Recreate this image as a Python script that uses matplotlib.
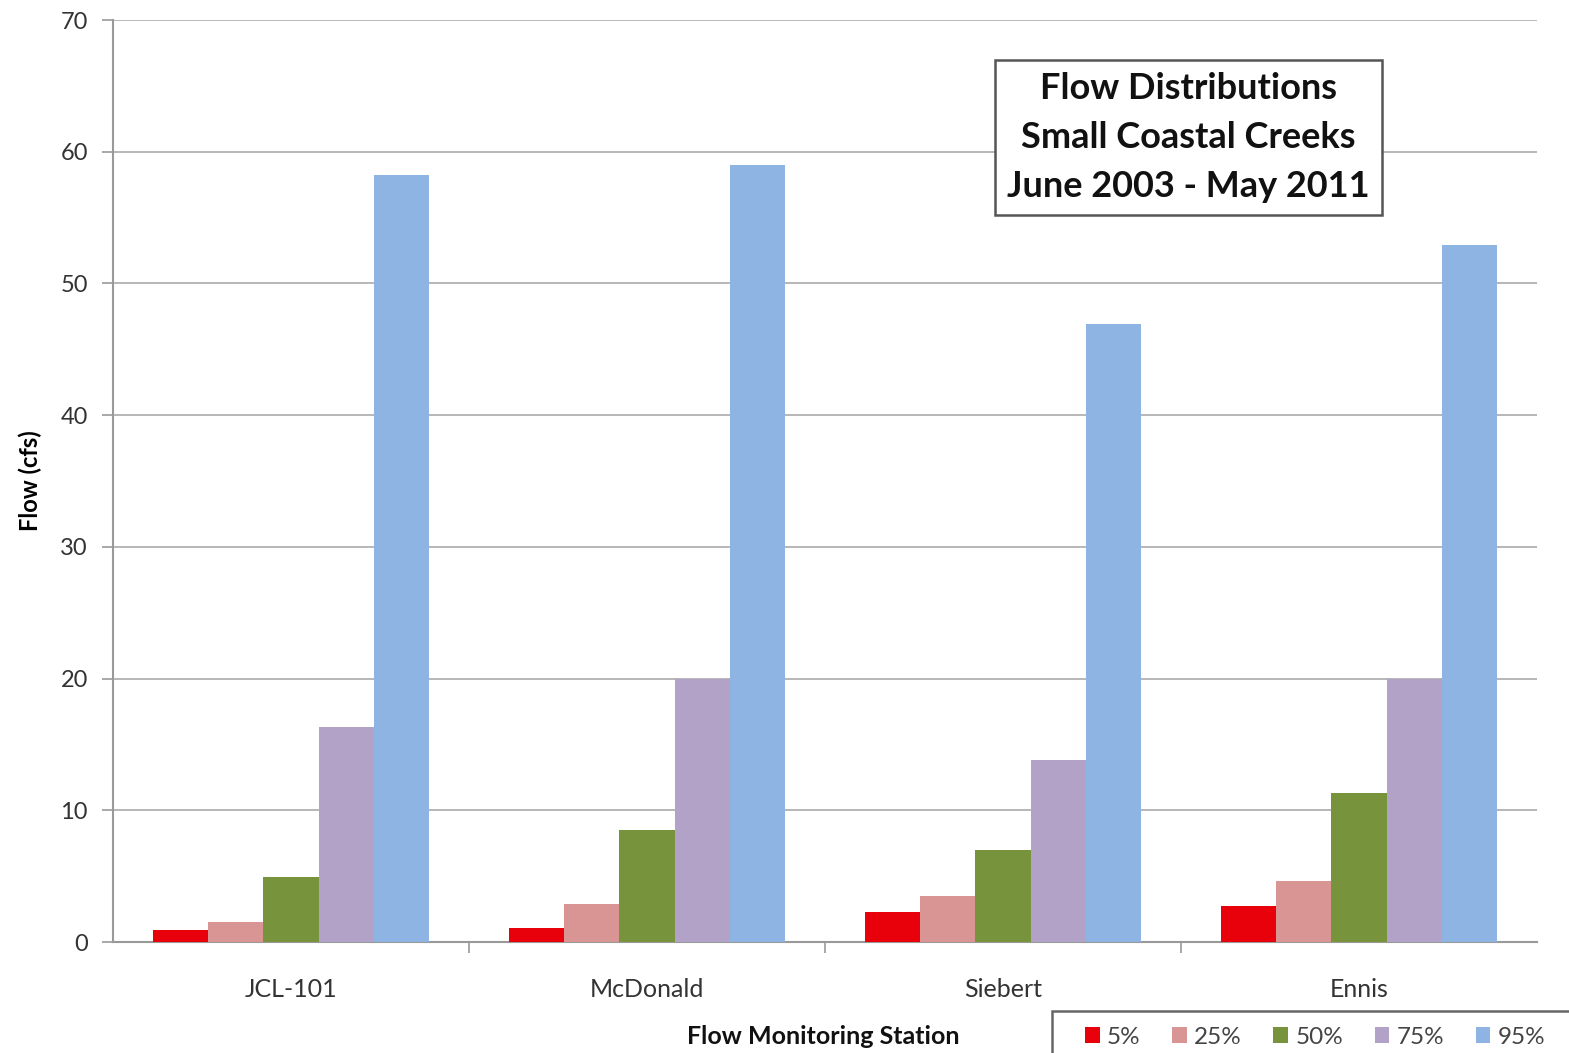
import matplotlib
matplotlib.use("Agg")
import matplotlib.pyplot as plt
from matplotlib.patches import Rectangle
import numpy as np

plt.rcParams['font.family'] = ['Lato', 'DejaVu Sans']

stations = ["JCL-101", "McDonald", "Siebert", "Ennis"]
percentiles = ["5%", "25%", "50%", "75%", "95%"]
flow_5 = [0.9, 1.05, 2.3, 2.7]
flow_25 = [1.5, 2.9, 3.5, 4.6]
flow_50 = [4.9, 8.5, 7.0, 11.3]
flow_75 = [16.3, 20.0, 13.8, 20.0]
flow_95 = [58.2, 59.0, 46.9, 52.9]
series = [flow_5, flow_25, flow_50, flow_75, flow_95]
colors = ["#E8000B", "#D99594", "#77933C", "#B3A2C7", "#8EB4E3"]

W, H = 1569, 1053
fig = plt.figure(figsize=(W / 100, H / 100), dpi=100)
ax = fig.add_axes([0.072, 0.1054, 0.9076, 0.8756])

x = np.arange(len(stations))
w = 0.155
for i, (vals, c, lab) in enumerate(zip(series, colors, percentiles)):
    ax.bar(x + (i - 2) * w, vals, width=w, color=c, label=lab, zorder=3)

ax.set_xlim(-0.5, len(stations) - 0.5)
ax.set_ylim(0, 70)
ax.set_yticks(range(0, 71, 10))
ax.set_xticks(x)
ax.set_xticklabels(stations)
ax.set_xticks(np.arange(0.5, len(stations) - 0.5, 1), minor=True)
ax.tick_params(axis='x', which='major', length=0, pad=26, labelsize=18, labelcolor="#333333")
ax.tick_params(axis='x', which='minor', length=8, color="#999999", width=1.2)
ax.tick_params(axis='y', length=8, color="#999999", width=1.2, pad=10,
               labelsize=17, labelcolor="#333333")
ax.grid(axis='y', color="#AAAAAA", linewidth=1.2, zorder=0)
for s in ["top", "right"]:
    ax.spines[s].set_visible(False)
for s in ["left", "bottom"]:
    ax.spines[s].set_color("#999999")
    ax.spines[s].set_linewidth(1.5)

ax.set_ylabel("Flow (cfs)", fontsize=17, fontweight='bold')
ax.yaxis.set_label_coords(-0.0497, 0.5)
fig.text(823 / W, 1 - 1037 / H, "Flow Monitoring Station", ha='center', va='center',
         fontsize=18, fontweight='bold', color="#111111")

ax.text(0.7553, 0.8726, "Flow Distributions\nSmall Coastal Creeks\nJune 2003 - May 2011",
        transform=ax.transAxes, ha='center', va='center', fontsize=26,
        fontweight='bold', linespacing=1.58, color="#111111", zorder=5,
        bbox=dict(boxstyle='square,pad=0.35', facecolor='white',
                  edgecolor='#555555', linewidth=1.8))

# legend frame runs off the bottom right corner
fig.patches.append(Rectangle((1052 / W, -0.05), 0.5, 0.05 + (H - 1011) / H,
                             transform=fig.transFigure, facecolor='white',
                             edgecolor='#666666', linewidth=1.8, zorder=1))
leg = fig.legend(loc='center left', bbox_to_anchor=(1085 / W, 1 - 1037 / H),
                 ncol=5, frameon=False, fontsize=17.5,
                 handlelength=0.6, handleheight=0.6, handletextpad=0.3,
                 columnspacing=1.3, borderpad=0, borderaxespad=0)
leg.set_zorder(2)
for t in leg.get_texts():
    t.set_color("#444444")

fig.savefig("out.png", dpi=100)
